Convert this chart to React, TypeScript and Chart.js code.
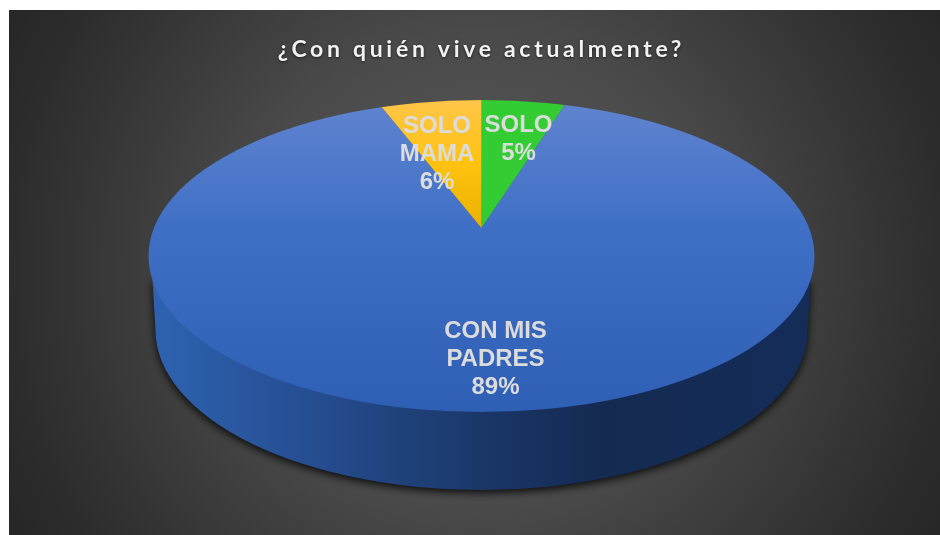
import React, { useEffect, useRef } from "react";
import { Chart, registerables } from "chart.js";

Chart.register(...registerables);

const titleText = "¿Con quién vive actualmente?";
const categories = [["SOLO"], ["CON MIS", "PADRES"], ["SOLO", "MAMA"]];
const shares = [5, 89, 6];

// Vertical fade of each slice, as [offset, colour] stops over the disc height.
const sliceStops = [
  [[0, "#33cc33"], [1, "#33cc33"]],
  [[0, "#6084d0"], [0.4, "#4070c6"], [1, "#2e5fb5"]],
  [[0, "#ffc54a"], [0.2, "#ffc30f"], [0.42, "#e8b000"], [1, "#e8b000"]],
];

// Disc outline relative to the point where the slices meet; the tilt squashes the circle.
const TILT = 0.48;
const DISC = { dy: 28, rx: 333, ry: 156 };
const BASE = { dy: 102, rx: 326, ry: 160 };
const LABEL_OFFSETS = [
  { x: 37, y: -89 },
  { x: 14, y: 131.5 },
  { x: -44.5, y: -74 },
];

const tiltedPie = {
  id: "tiltedPie",
  beforeDraw(chart: any) {
    const { ctx, width, height } = chart;
    ctx.save();
    ctx.fillStyle = "#ffffff";
    ctx.fillRect(0, 0, width, height);
    const glow = ctx.createRadialGradient(478, 270, 0, 478, 270, 530);
    glow.addColorStop(0, "#5a5a5a");
    glow.addColorStop(0.43, "#4b4b4b");
    glow.addColorStop(0.89, "#2c2c2c");
    glow.addColorStop(1, "#272727");
    ctx.fillStyle = glow;
    ctx.fillRect(9, 10, width - 9, height - 10);
    ctx.restore();
    // Picked up by the title, which draws next.
    ctx.letterSpacing = "3.7px";
    ctx.shadowColor = "rgba(0,0,0,0.6)";
    ctx.shadowBlur = 3;
    ctx.shadowOffsetY = 1;
  },
  beforeDatasetDraw(chart: any) {
    const { ctx } = chart;
    ctx.letterSpacing = "0px";
    ctx.shadowColor = "transparent";
    ctx.shadowBlur = 0;
    ctx.shadowOffsetY = 0;
    const { x, y } = chart.getDatasetMeta(0).data[0];

    // Side wall with its soft shadow, under the disc.
    const wall = ctx.createLinearGradient(x - BASE.rx, 0, x + BASE.rx, 0);
    wall.addColorStop(0, "#2e62b0");
    wall.addColorStop(0.22, "#264f94");
    wall.addColorStop(0.5, "#1a3768");
    wall.addColorStop(0.68, "#142a52");
    wall.addColorStop(1, "#142c58");
    ctx.save();
    ctx.beginPath();
    ctx.moveTo(x - 329, y + 52);
    ctx.lineTo(x - BASE.rx, y + BASE.dy);
    ctx.ellipse(x, y + BASE.dy, BASE.rx, BASE.ry, 0, Math.PI, 0, true);
    ctx.lineTo(x + 329, y + 52);
    ctx.closePath();
    ctx.shadowColor = "rgba(0,0,0,0.85)";
    ctx.shadowBlur = 9;
    ctx.shadowOffsetY = 3;
    ctx.fillStyle = wall;
    ctx.fill();
    ctx.restore();

    // Slices are drawn oversized about their meeting point and trimmed to the disc.
    ctx.save();
    ctx.beginPath();
    ctx.ellipse(x, y + DISC.dy, DISC.rx, DISC.ry, 0, 0, Math.PI * 2);
    ctx.clip();
    ctx.translate(x, y);
    ctx.scale(1, TILT);
    ctx.translate(-x, -y);
  },
  afterDatasetDraw(chart: any) {
    const { ctx } = chart;
    ctx.restore();
    const { x, y } = chart.getDatasetMeta(0).data[0];
    ctx.save();
    ctx.font = "bold 24px 'Liberation Sans'";
    ctx.fillStyle = "#dcdcdc";
    ctx.textAlign = "center";
    ctx.textBaseline = "middle";
    categories.forEach((name, i) => {
      const lines = [...name, `${shares[i]}%`];
      const step = 28;
      const top = y + LABEL_OFFSETS[i].y - (step * (lines.length - 1)) / 2;
      lines.forEach((line, j) => ctx.fillText(line, x + LABEL_OFFSETS[i].x, top + j * step));
    });
    ctx.restore();
  },
};

export default function App() {
  const ref = useRef<HTMLCanvasElement>(null);

  useEffect(() => {
    const chart = new Chart(ref.current as HTMLCanvasElement, {
      type: "pie",
      data: {
        labels: categories.map((c) => c.join(" ")),
        datasets: [
          {
            data: shares,
            radius: 700,
            clip: false,
            borderWidth: 0,
            backgroundColor: (c: any) => {
              const area = c.chart.chartArea;
              if (!area) return "#4472c4";
              const apexY = (area.top + area.bottom) / 2;
              const top = apexY + (DISC.dy - DISC.ry) / TILT;
              const bottom = apexY + (DISC.dy + DISC.ry) / TILT;
              const fade = c.chart.ctx.createLinearGradient(0, top, 0, bottom);
              sliceStops[c.dataIndex].forEach(([o, col]: any) => fade.addColorStop(o, col));
              return fade;
            },
          } as any,
        ],
      },
      options: {
        animation: false,
        responsive: false,
        layout: { padding: { left: 23, right: 0, top: 0, bottom: 142.8 } },
        plugins: {
          legend: { display: false },
          tooltip: { enabled: false },
          title: {
            display: true,
            text: titleText,
            color: "#f2f2f2",
            font: { family: "Lato", size: 23, weight: "bold", lineHeight: 1.2 },
            padding: { top: 36.2, bottom: 0 },
          },
        },
      },
      plugins: [tiltedPie],
    });
    return () => chart.destroy();
  }, []);

  return (
    <div style={{ position: "fixed", left: 0, top: 0, width: 940, height: 535 }}>
      <canvas ref={ref} width={940} height={535} style={{ display: "block" }} />
    </div>
  );
}
